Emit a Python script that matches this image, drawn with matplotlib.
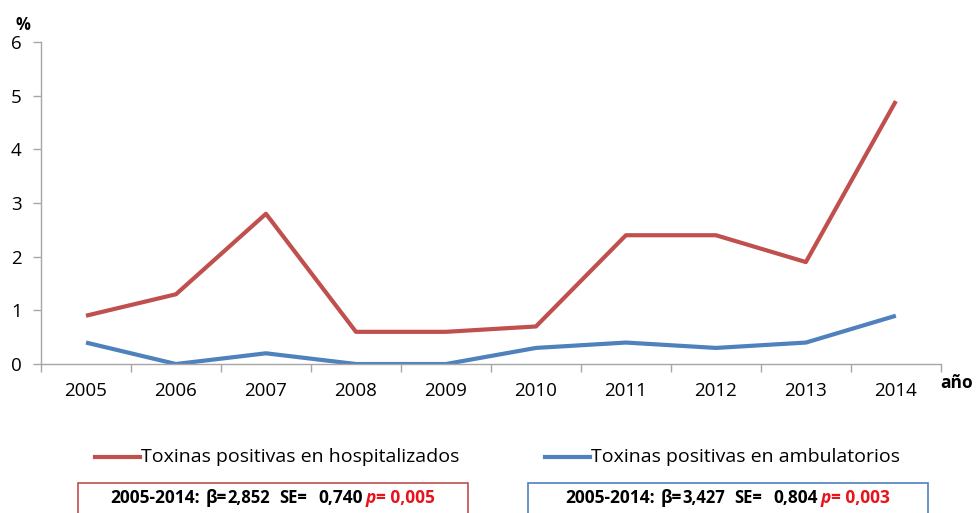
import matplotlib.pyplot as plt
from matplotlib.lines import Line2D
from matplotlib.patches import Rectangle

years = ['2005', '2006', '2007', '2008', '2009', '2010', '2011', '2012', '2013', '2014']
hospitalizados = [0.9, 1.3, 2.8, 0.6, 0.6, 0.7, 2.4, 2.4, 1.9, 4.9]
ambulatorios = [0.4, 0.0, 0.2, 0.0, 0.0, 0.3, 0.4, 0.3, 0.4, 0.9]
labels = ['Toxinas positivas en hospitalizados', 'Toxinas positivas en ambulatorios']
period = '2005-2014:'
beta = ['2,852', '3,427']
se = ['0,740', '0,804']
pval = ['0,005', '0,003']

red = '#C0504D'
blue = '#4F81BD'
grey = '#A6A6A6'
pred = '#E8141B'

plt.rcParams['font.family'] = ['Open Sans', 'DejaVu Sans']

fig = plt.figure(figsize=(9.76, 5.13), dpi=100)
ax = fig.add_axes([0.042, 0.2904, 0.922, 0.6276])

x = list(range(len(years)))
ax.plot(x, hospitalizados, color=red, lw=3, solid_capstyle='butt')
ax.plot(x, ambulatorios, color=blue, lw=3, solid_capstyle='butt')

ax.set_xlim(-0.5, len(years) - 0.5)
ax.set_ylim(0, 6)
ax.set_yticks(range(7))
ax.set_xticks(x)
ax.set_xticklabels(years)
ax.set_xticks([i - 0.5 for i in range(len(years) + 1)], minor=True)
ax.tick_params(axis='x', which='major', length=0, pad=13, labelsize=13.5)
ax.tick_params(axis='x', which='minor', length=6, color=grey, width=1)
ax.tick_params(axis='y', length=6, color=grey, width=1, labelsize=13.5, pad=8)
for s in ['top', 'right']:
    ax.spines[s].set_visible(False)
for s in ['left', 'bottom']:
    ax.spines[s].set_color(grey)
    ax.spines[s].set_linewidth(1)

fig.text(0.024, 0.952, '%', fontsize=12, fontweight='bold', ha='center', va='center')
fig.text(0.963, 0.254, 'año', fontsize=12.5, fontweight='bold', ha='left', va='center')

# legend entries
leg_y = 1 - 457 / 513
for (x0, x1, xt), col, lab in zip([(95, 140, 141), (545, 590, 591)], [red, blue], labels):
    fig.add_artist(Line2D([x0 / 976, x1 / 976], [leg_y, leg_y], color=col, lw=3,
                          transform=fig.transFigure))
    fig.text(xt / 976, leg_y, lab, fontsize=14, ha='left', va='center')

# stats boxes, text pieces placed at measured pixel offsets
box_y0 = 1 - 520 / 513
box_h = (520 - 483) / 513
ty = 1 - 498 / 513
for (bx0, bx1, tx), col, b, s, p in zip([(78, 468, 110), (528, 928, 565)], [red, blue],
                                        beta, se, pval):
    fig.add_artist(Rectangle((bx0 / 976, box_y0), (bx1 - bx0) / 976, box_h,
                             transform=fig.transFigure, fill=False, edgecolor=col, lw=1.2))
    pieces = [(0, period, 'k', 'normal', 12.5), (96, 'β=', 'k', 'normal', 12.5),
              (117, b, 'k', 'normal', 12), (169, 'SE=', 'k', 'normal', 12),
              (208, s, 'k', 'normal', 12.5), (256, 'p', pred, 'italic', 12.5),
              (266, '= ' + p, pred, 'normal', 12.5)]
    for off, txt, c, st, f in pieces:
        fig.text((tx + off) / 976, ty, txt, fontsize=f, fontweight='bold', style=st,
                 color=c, ha='left', va='center')

fig.savefig('out.png', dpi=100)
